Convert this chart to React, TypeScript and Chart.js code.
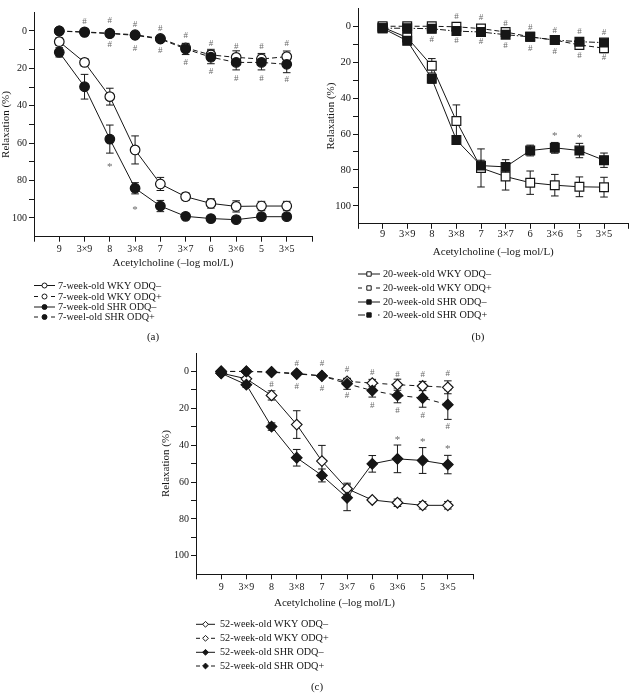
import React, { useEffect, useRef } from 'react';
import { Chart, registerables } from 'chart.js';

Chart.register(...registerables);

const FONT = '"Liberation Serif", "DejaVu Serif", serif';
const INK = '#161616';
const MARK = '#6a6a6a';

const doseLabels = ['9', '3×9', '8', '3×8', '7', '3×7', '6', '3×6', '5', '3×5'];
const xTitle = 'Acetylcholine (–log mol/L)';
const yTitle = 'Relaxation (%)';

// ---------- panel (a) : 7-week-old ----------
const aLabels = ['7-week-old WKY ODQ–', '7-week-old WKY ODQ+', '7-week-old SHR ODQ–', '7-weel-old SHR ODQ+'];
const aWkyMinus = [5.7, 16.8, 35.1, 63.6, 81.8, 88.6, 92.2, 93.8, 93.6, 93.6];
const aWkyMinusErr = [2, 2, 4.5, 7.5, 3.5, 2, 2.5, 3, 2.5, 2.5];
const aWkyPlus = [0, 0.5, 1.2, 2, 4, 9, 12.8, 14.1, 15, 13.7];
const aWkyPlusErr = [0, 0, 0, 0, 1, 2, 3, 3.5, 3, 3];
const aShrMinus = [11.4, 29.8, 57.8, 84.1, 93.6, 99.1, 100.3, 100.9, 99.3, 99.3];
const aShrMinusErr = [2.5, 6.6, 7.5, 3, 3, 1, 1, 1, 1, 1];
const aShrPlus = [0, 0.7, 1.4, 2.3, 4.3, 9.6, 14, 16.8, 16.8, 17.8];
const aShrPlusErr = [0, 0, 0, 0, 1, 3, 3.5, 4, 4, 4.5];
const aHashAbove = [null, -5, -5.5, -3.2, -1.4, 2.7, 6.6, 8.4, 8.4, 6.6];
const aHashBelow = [null, null, 7.5, 9.3, 10.5, 17, 21.8, 25.7, 25.7, 26.2];
const aStars = [null, null, 71.7, 94.7, null, null, null, null, null, null];

// ---------- panel (b) : 20-week-old ----------
const bLabels = ['20-week-old WKY ODQ–', '20-week-old WKY ODQ+', '20-week-old SHR ODQ–', '20-week-old SHR ODQ+'];
const bWkyMinus = [0.5, 6.3, 22, 52.8, 78.9, 83.7, 87.1, 88.5, 89.4, 89.6];
const bWkyMinusErr = [1, 1.5, 4, 9, 10.6, 7.5, 6.5, 6, 5.5, 5.5];
const bWkyPlus = [0, 0, 0, 0.3, 1.3, 3.2, 5.9, 7.7, 10.4, 12.2];
const bWkyPlusErr = [0, 0, 0, 0, 0, 1, 1.5, 2, 2, 2.5];
const bShrMinus = [1.1, 8.1, 29.2, 63.3, 77.6, 78.3, 69.2, 67.7, 69.2, 74.6];
const bShrMinusErr = [1, 1.5, 2.5, 1.5, 3, 4, 3, 3, 4, 4];
const bShrPlus = [1.1, 1.1, 1.4, 2.7, 3.2, 4.7, 5.9, 7.7, 8.6, 9.1];
const bShrPlusErr = [0, 0, 0, 0, 0, 1, 1, 1.5, 1.5, 1.5];
const bHashAbove = [null, null, null, -5.2, -4.8, -1.6, 0.5, 2.3, 3.2, 3.8];
const bHashBelow = [null, null, 7.7, 8.2, 8.6, 10.9, 12.2, 14, 16.1, 17.6];
const bStars = [null, null, null, null, null, null, null, 60.2, 60.9, null];

// ---------- panel (c) : 52-week-old ----------
const cLabels = ['52-week-old WKY ODQ–', '52-week-old WKY ODQ+', '52-week-old SHR ODQ–', '52-week-old SHR ODQ+'];
const cWkyMinus = [0.9, 4, 13, 28.8, 48.6, 63.6, 69.7, 71.2, 72.6, 72.6];
const cWkyMinusErr = [1, 1, 2.5, 7.5, 8.5, 3, 1, 2, 2, 2];
const cWkyPlus = [0, 0, 0.3, 1, 2.5, 5.4, 6.3, 7.2, 7.9, 8.6];
const cWkyPlusErr = [0, 0, 0, 0, 0, 1.5, 2, 3, 2.5, 3.5];
const cShrMinus = [1, 7.2, 29.9, 46.8, 56.4, 68.5, 50.1, 47.4, 48.3, 50.5];
const cShrMinusErr = [1, 1.5, 2, 4.5, 3.5, 7, 4.5, 7.5, 7, 5];
const cShrPlus = [0, 0, 0.4, 1.4, 2.3, 6.7, 10.4, 13, 14.4, 18];
const cShrPlusErr = [0, 0, 0, 0, 1, 3, 3.5, 4, 5, 8];
const cHashAbove = [null, null, null, -4.5, -4, -0.9, 0.9, 1.8, 1.8, 1.4];
const cHashBelow = [null, null, 7.2, 8.1, 9.4, 13, 18.5, 21.2, 23.7, 29.7];
const cStars = [null, null, null, null, null, null, null, 36, 37.5, 41];

type Mk = 'circle' | 'rect' | 'rectRot';
type LineKind = 'solid' | 'dash' | 'dashdot';
interface SeriesDef { label: string; values: number[]; errs: number[]; filled: boolean; line: LineKind; }
interface PanelDef {
  caption: string;
  marker: Mk; radius: number; legendR: number;
  left: number; top: number; width: number; height: number;
  plot: { l: number; t: number; r: number; b: number };
  yW: number; xH: number; tickFont: number; titleFont: number; xTickPad: number;
  dash: number[]; dashdot: number[];
  series: SeriesDef[];
  hashAbove: (number | null)[]; hashBelow: (number | null)[]; stars: (number | null)[];
  legend: { ys: number[]; x0: number; x1: number; tx: number; font: number };
  cap: { x: number; y: number; font: number };
}

const panels: PanelDef[] = [
  {
    caption: '(a)', marker: 'circle', radius: 4.8, legendR: 2.5,
    left: 0, top: 0, width: 318, height: 345,
    plot: { l: 34, t: 12.3, r: 312, b: 236.7 }, yW: 34, xH: 33, tickFont: 10, titleFont: 11, xTickPad: 2,
    dash: [5, 3], dashdot: [6, 2, 1, 2],
    series: [
      { label: aLabels[0], values: aWkyMinus, errs: aWkyMinusErr, filled: false, line: 'solid' },
      { label: aLabels[1], values: aWkyPlus, errs: aWkyPlusErr, filled: false, line: 'dash' },
      { label: aLabels[2], values: aShrMinus, errs: aShrMinusErr, filled: true, line: 'solid' },
      { label: aLabels[3], values: aShrPlus, errs: aShrPlusErr, filled: true, line: 'dash' },
    ],
    hashAbove: aHashAbove, hashBelow: aHashBelow, stars: aStars,
    legend: { ys: [285.5, 296.5, 307, 317], x0: 34, x1: 55, tx: 58, font: 10.2 },
    cap: { x: 153, y: 337, font: 11 },
  },
  {
    caption: '(b)', marker: 'rect', radius: 6.2, legendR: 2.2,
    left: 320, top: 0, width: 316, height: 345,
    plot: { l: 38, t: 0.5, r: 315, b: 223.8 }, yW: 33, xH: 34.6, tickFont: 10.5, titleFont: 11, xTickPad: -1,
    dash: [5, 3], dashdot: [6, 2, 1.5, 2],
    series: [
      { label: bLabels[0], values: bWkyMinus, errs: bWkyMinusErr, filled: false, line: 'solid' },
      { label: bLabels[1], values: bWkyPlus, errs: bWkyPlusErr, filled: false, line: 'dash' },
      { label: bLabels[2], values: bShrMinus, errs: bShrMinusErr, filled: true, line: 'solid' },
      { label: bLabels[3], values: bShrPlus, errs: bShrPlusErr, filled: true, line: 'dashdot' },
    ],
    hashAbove: bHashAbove, hashBelow: bHashBelow, stars: bStars,
    legend: { ys: [274, 288, 302, 315], x0: 38, x1: 60, tx: 63, font: 10.2 },
    cap: { x: 158, y: 337, font: 11 },
  },
  {
    caption: '(c)', marker: 'rectRot', radius: 5.3, legendR: 2.9,
    left: 160, top: 345, width: 320, height: 348,
    plot: { l: 36, t: 6.5, r: 313, b: 229.3 }, yW: 36, xH: 35.3, tickFont: 10, titleFont: 11, xTickPad: 2,
    dash: [5, 4], dashdot: [6, 2, 1, 2],
    series: [
      { label: cLabels[0], values: cWkyMinus, errs: cWkyMinusErr, filled: false, line: 'solid' },
      { label: cLabels[1], values: cWkyPlus, errs: cWkyPlusErr, filled: false, line: 'dash' },
      { label: cLabels[2], values: cShrMinus, errs: cShrMinusErr, filled: true, line: 'solid' },
      { label: cLabels[3], values: cShrPlus, errs: cShrPlusErr, filled: true, line: 'dash' },
    ],
    hashAbove: cHashAbove, hashBelow: cHashBelow, stars: cStars,
    legend: { ys: [279.3, 293.3, 307.3, 321], x0: 36, x1: 55, tx: 60, font: 10.2 },
    cap: { x: 157, y: 342, font: 11 },
  },
];

function drawMarker(ctx: CanvasRenderingContext2D, style: Mk, x: number, y: number, r: number, filled: boolean) {
  ctx.beginPath();
  if (style === 'circle') ctx.arc(x, y, r, 0, Math.PI * 2);
  else if (style === 'rect') ctx.rect(x - r, y - r, 2 * r, 2 * r);
  else { ctx.moveTo(x, y - r); ctx.lineTo(x + r, y); ctx.lineTo(x, y + r); ctx.lineTo(x - r, y); ctx.closePath(); }
  ctx.fillStyle = filled ? INK : '#fff';
  ctx.fill();
  ctx.stroke();
}

function makePlugins(p: PanelDef) {
  const errorBars = {
    id: 'errorBars',
    beforeDatasetsDraw(chart: any) {
      const ctx: CanvasRenderingContext2D = chart.ctx;
      const xs = chart.scales.x, ys = chart.scales.y;
      ctx.save();
      ctx.strokeStyle = INK;
      ctx.lineWidth = 1;
      ctx.setLineDash([]);
      chart.data.datasets.forEach((ds: any) => {
        const errs: number[] = ds.errs || [];
        ds.data.forEach((pt: any, i: number) => {
          const e = errs[i];
          if (!e) return;
          const x = xs.getPixelForValue(pt.x);
          const y1 = ys.getPixelForValue(pt.y - e);
          const y2 = ys.getPixelForValue(pt.y + e);
          const cap = 3.8;
          ctx.beginPath();
          ctx.moveTo(x, y1); ctx.lineTo(x, y2);
          ctx.moveTo(x - cap, y1); ctx.lineTo(x + cap, y1);
          ctx.moveTo(x - cap, y2); ctx.lineTo(x + cap, y2);
          ctx.stroke();
        });
      });
      ctx.restore();
    },
  };
  const marks = {
    id: 'marks',
    afterDatasetsDraw(chart: any) {
      const ctx: CanvasRenderingContext2D = chart.ctx;
      const xs = chart.scales.x, ys = chart.scales.y;
      ctx.save();
      ctx.fillStyle = MARK;
      ctx.textAlign = 'center';
      ctx.textBaseline = 'middle';
      const put = (arr: (number | null)[], txt: string, size: number, dy: number) => {
        ctx.font = `${size}px ${FONT}`;
        arr.forEach((v, i) => {
          if (v === null || v === undefined) return;
          ctx.fillText(txt, xs.getPixelForValue(i), ys.getPixelForValue(v) + dy);
        });
      };
      put(p.hashAbove, '#', 9, 0);
      put(p.hashBelow, '#', 9, 0);
      put(p.stars, '*', 11, 2);
      ctx.restore();
    },
  };
  const legend = {
    id: 'customLegend',
    afterDraw(chart: any) {
      const ctx: CanvasRenderingContext2D = chart.ctx;
      const L = p.legend;
      ctx.save();
      ctx.strokeStyle = INK;
      ctx.lineWidth = 1;
      p.series.forEach((s, i) => {
        const y = L.ys[i];
        const mid = (L.x0 + L.x1) / 2;
        ctx.setLineDash([]);
        ctx.beginPath();
        if (s.line === 'solid') {
          ctx.moveTo(L.x0, y); ctx.lineTo(L.x1, y);
        } else if (s.line === 'dash') {
          ctx.moveTo(L.x0, y); ctx.lineTo(L.x0 + 4, y);
          ctx.moveTo(L.x1 - 4, y); ctx.lineTo(L.x1, y);
        } else {
          ctx.moveTo(L.x0, y); ctx.lineTo(L.x0 + 7, y);
          ctx.moveTo(L.x1 - 2, y); ctx.lineTo(L.x1 - 0.5, y);
        }
        ctx.stroke();
        drawMarker(ctx, p.marker, mid, y, p.legendR, s.filled);
        ctx.fillStyle = INK;
        ctx.font = `${L.font}px ${FONT}`;
        ctx.textAlign = 'left';
        ctx.textBaseline = 'middle';
        ctx.fillText(s.label, L.tx, y + 0.5);
      });
      ctx.font = `${p.cap.font}px ${FONT}`;
      ctx.textAlign = 'center';
      ctx.fillText(p.caption, p.cap.x, p.cap.y);
      ctx.restore();
    },
  };
  return [errorBars, marks, legend];
}

function Panel({ p }: { p: PanelDef }) {
  const ref = useRef<HTMLCanvasElement | null>(null);
  useEffect(() => {
    if (!ref.current) return;
    const padL = p.plot.l - p.yW;
    const padR = p.width - p.plot.r;
    const padT = p.plot.t;
    const padB = p.height - p.plot.b - p.xH;
    const n = p.series.length;
    const datasets = p.series.map((s, i) => ({
      label: s.label,
      data: s.values.map((v, k) => ({ x: k, y: v })),
      errs: s.errs,
      borderColor: INK,
      borderWidth: 1,
      borderDash: s.line === 'solid' ? [] : s.line === 'dash' ? p.dash : p.dashdot,
      pointStyle: p.marker,
      pointRadius: p.radius,
      pointHoverRadius: p.radius,
      pointBackgroundColor: s.filled ? INK : '#fff',
      pointBorderColor: INK,
      pointBorderWidth: 1.2,
      tension: 0,
      fill: false,
      order: n - i,
    }));
    const chart = new Chart(ref.current, {
      type: 'line',
      data: { datasets } as any,
      options: {
        animation: false,
        responsive: false,
        maintainAspectRatio: false,
        devicePixelRatio: 1,
        layout: { padding: { left: padL, right: padR, top: padT, bottom: padB } },
        plugins: { legend: { display: false }, tooltip: { enabled: false }, title: { display: false } },
        scales: {
          x: {
            type: 'linear', min: -1, max: 10,
            grid: { display: true, drawOnChartArea: false, drawTicks: true, tickLength: 5, color: INK, lineWidth: 1 },
            border: { display: true, color: INK, width: 1 },
            ticks: {
              stepSize: 1, autoSkip: false, maxRotation: 0, padding: p.xTickPad, color: INK,
              font: { family: FONT, size: p.tickFont },
              callback: (v: any) => (Number.isInteger(v) && v >= 0 && v < doseLabels.length ? doseLabels[v] : ''),
            },
            title: { display: true, text: xTitle, color: INK, font: { family: FONT, size: p.titleFont }, padding: 0 },
            afterFit: (s: any) => { s.height = p.xH; },
          },
          y: {
            type: 'linear', reverse: true, min: -10, max: 110,
            grid: { display: true, drawOnChartArea: false, drawTicks: true, tickLength: 5, color: INK, lineWidth: 1 },
            border: { display: true, color: INK, width: 1 },
            ticks: {
              stepSize: 10, autoSkip: false, padding: 2, color: INK,
              font: { family: FONT, size: p.tickFont },
              callback: (v: any) => (v < 0 || v > 100 ? null : v % 20 === 0 ? String(v) : ''),
            },
            title: { display: true, text: yTitle, color: INK, font: { family: FONT, size: p.titleFont }, padding: 0 },
            afterFit: (s: any) => { s.width = p.yW; },
          },
        },
      } as any,
      plugins: makePlugins(p) as any,
    });
    return () => chart.destroy();
  }, [p]);
  return (
    <div style={{ position: 'absolute', left: p.left, top: p.top, width: p.width, height: p.height }}>
      <canvas ref={ref} width={p.width} height={p.height} style={{ width: p.width, height: p.height, display: 'block' }} />
    </div>
  );
}

export default function App() {
  return (
    <div style={{ position: 'fixed', left: 0, top: 0, width: 636, height: 693, background: '#fff', overflow: 'hidden' }}>
      {panels.map((p) => <Panel key={p.caption} p={p} />)}
    </div>
  );
}
